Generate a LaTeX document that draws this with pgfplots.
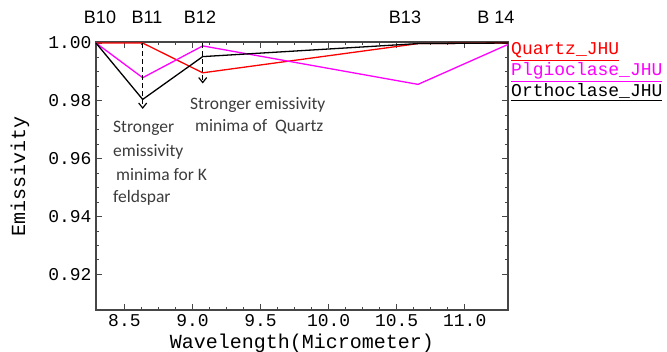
\documentclass[border=0pt]{standalone}
\usepackage{pgfplots}
\pgfplotsset{compat=1.18}
\usepackage{fontspec}
\setmainfont{Liberation Sans}
\newfontfamily\monofnt{Liberation Mono}
\newfontfamily\calfnt{Carlito}
\usetikzlibrary{arrows.meta}
\definecolor{axgray}{RGB}{70,70,70}
\definecolor{txtgray}{RGB}{60,60,60}
\definecolor{plg}{RGB}{255,0,255}
\begin{document}
\begin{tikzpicture}
\useasboundingbox (-96bp,-42bp) rectangle (571bp,310bp);
\begin{axis}[
  at={(0,0)}, anchor=south west,
  scale only axis, width=412bp, height=268bp,
  xmin=8.291, xmax=11.318, ymin=0.9077, ymax=1.00035,
  xtick={8.5,9.0,9.5,10.0,10.5,11.0},
  ytick={0.92,0.94,0.96,0.98,1.00},
  minor x tick num=3, minor y tick num=3,
  tick align=inside,
  major tick length=6bp, minor tick length=3bp,
  axis line style={axgray, line width=1.3bp},
  every tick/.style={axgray, line width=1bp},
  /pgf/number format/assume math mode=true,
  x tick label style={/pgf/number format/fixed, /pgf/number format/fixed zerofill, /pgf/number format/precision=1, inner sep=0.5bp, yshift=-4bp},
  y tick label style={/pgf/number format/fixed, /pgf/number format/fixed zerofill, /pgf/number format/precision=2, xshift=-1bp},
  tick label style={font=\monofnt\fontsize{18bp}{20bp}\selectfont, text=black},
  xlabel={Wavelength(Micrometer)},
  ylabel={Emissivity},
  label style={font=\monofnt\fontsize{20bp}{22bp}\selectfont, inner sep=0.5bp},
  xlabel style={at={(axis description cs:0.5,0)}, anchor=center, yshift=-33.5bp},
  ylabel style={at={(axis description cs:-0.1845,0.5)}, anchor=center},
  clip=false,
]
\addplot[red, line width=1.3bp] coordinates {(8.291,1.000) (8.634,1.000) (9.075,0.9897) (10.657,0.9998) (11.318,1.000)};
\addplot[plg, line width=1.3bp] coordinates {(8.291,1.000) (8.634,0.9880) (9.075,0.9990) (10.657,0.9857) (11.318,0.9995)};
\addplot[black, line width=1.3bp] coordinates {(8.291,1.000) (8.634,0.9805) (9.075,0.9953) (10.657,0.9998) (11.318,1.000)};
\draw[black, line width=1.2bp, dash pattern=on 5bp off 3bp, -{Straight Barb[length=5bp,width=8bp]}] (axis cs:8.634,1.000) -- (axis cs:8.634,0.9772);
\draw[black, line width=1.2bp, dash pattern=on 5bp off 3bp, -{Straight Barb[length=5bp,width=8bp]}] (axis cs:9.075,1.000) -- (axis cs:9.075,0.9860);
\end{axis}
% band labels
\begin{scope}[every node/.style={font=\fontsize{18bp}{20bp}\selectfont, text=black, anchor=center}]
\node at (4bp,293bp) {B10};
\node at (51bp,293bp) {B11};
\node at (104bp,293bp) {B12};
\node at (309bp,293bp) {B13};
\node at (400bp,293bp) {B 14};
\end{scope}
% annotations
\begin{scope}[every node/.style={font=\calfnt\fontsize{17.5bp}{19bp}\selectfont, text=txtgray, anchor=west, inner sep=0pt}]
\node at (94bp,205bp) {Stronger emissivity};
\node at (99bp,183bp) {minima of\ \ Quartz};
\node at (17bp,182bp) {Stronger};
\node at (17bp,158bp) {emissivity};
\node at (20bp,135bp) {minima for K};
\node at (17bp,112bp) {feldspar};
\end{scope}
% legend
\begin{scope}[every node/.style={font=\monofnt\fontsize{18bp}{20bp}\selectfont, anchor=base west, inner sep=0pt}]
\node[text=red] at (415bp,255bp) {\underline{Quartz\_JHU}};
\node[text=plg] at (415bp,234bp) {\underline{Plgioclase\_JHU}};
\node[text=black] at (415bp,213bp) {\underline{Orthoclase\_JHU}};
\end{scope}
\end{tikzpicture}
\end{document}
